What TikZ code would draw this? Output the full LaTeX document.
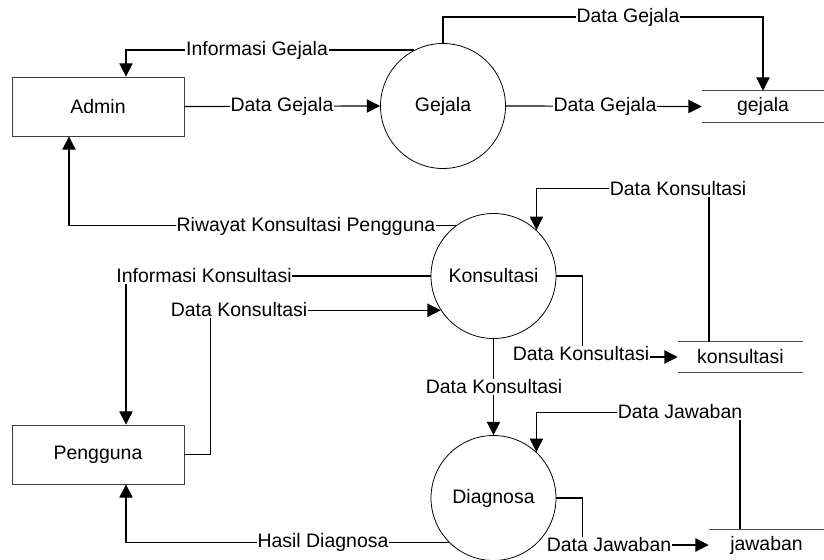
\documentclass[tikz,border=0pt]{standalone}
\usepackage{fontspec}
\setmainfont{Liberation Sans}
\usetikzlibrary{arrows.meta}

\tikzstyle{entity} = [rectangle, draw=black!75, line width=0.6pt, minimum width=129pt, minimum height=44.25pt, inner sep=0pt]
\tikzstyle{process} = [circle, draw, line width=0.6pt, minimum size=93.75pt, inner sep=0pt]
\tikzstyle{datastore} = [rectangle, minimum height=23.25pt, inner sep=0pt]
\tikzstyle{storeline} = [draw=black!70, line width=0.8pt]
\tikzstyle{flow} = [-{Triangle[length=10pt, width=10pt]}, line width=0.9pt]
\tikzstyle{flowlabel} = [fill=white, inner sep=0.5pt]

\begin{document}
\begin{tikzpicture}[x=0.75pt, y=-0.75pt, font=\fontsize{14.6}{17}\selectfont]
  \useasboundingbox (0, 0) rectangle (824, 560);
  % external entities
  \node[entity] (admin) at (98, 106.5) {Admin};
  \node[entity] (pengguna) at (98, 454.5) {Pengguna};
  % processes
  \node[process] (gejala) at (443, 106) {Gejala};
  \node[process] (konsultasi) at (493.5, 276) {Konsultasi};
  \node[process] (diagnosa) at (493.5, 498) {Diagnosa};
  % data stores
  \node[datastore, minimum width=91.5pt] (dgejala) at (763, 106.5) {gejala};
  \node[datastore, minimum width=93.75pt, minimum height=22.5pt] (dkonsultasi) at (740.5, 357) {konsultasi};
  \node[datastore, minimum width=86.25pt] (djawaban) at (766.5, 545) {jawaban};
  \draw[storeline] (dgejala.north west) -- (dgejala.north east);
  \draw[storeline] (dgejala.south west) -- (dgejala.south east);
  \draw[storeline] (dkonsultasi.north west) -- (dkonsultasi.north east);
  \draw[storeline] (dkonsultasi.south west) -- (dkonsultasi.south east);
  \draw[storeline] (djawaban.north west) -- (djawaban.north east);
  % data flows
  \draw[flow] (gejala.117) -| ([xshift=21pt]admin.north);
  \draw[flow] (admin.east) -- (gejala.west);
  \draw[flow] (gejala.north) -- ++(0, -26) -| (dgejala.north);
  \draw[flow] (gejala.east) -- (dgejala.west);
  \draw[flow] (konsultasi.127) -| ([xshift=-21.75pt]admin.south);
  \draw[flow] (konsultasi.west) -| ([xshift=21pt]pengguna.north);
  \draw[flow] (pengguna.east) -- ++(26, 0) |- (konsultasi.213);
  \draw[flow] (konsultasi.east) -- ++(26, 0) |- (dkonsultasi.west);
  \draw[flow] ([xshift=-23.6pt]dkonsultasi.north) -- ++(0, -153) -| (konsultasi.47);
  \draw[flow] (konsultasi.south) -- (diagnosa.north);
  \draw[flow] ([xshift=-19.9pt]djawaban.north) -- ++(0, -117) -| (diagnosa.47);
  \draw[flow] (diagnosa.east) -- ++(26, 0) |- (djawaban.west);
  \draw[flow] (diagnosa.225) -| ([xshift=21pt]pengguna.south);
  % flow labels
  \foreach \i/\x/\y/\t in {
    1/257/50/Informasi Gejala, 2/282/106/Data Gejala, 3/628/17/Data Gejala,
    4/605/106/Data Gejala, 5/306/226/Riwayat Konsultasi Pengguna,
    6/204/276/Informasi Konsultasi, 7/239/310/Data Konsultasi,
    8/581/354/Data Konsultasi, 9/678/189/Data Konsultasi,
    10/494/387/Data Konsultasi, 11/680/412/Data Jawaban,
    12/609/545/Data Jawaban, 13/323/542/Hasil Diagnosa} {
    \node[flowlabel] (label\i) at (\x, \y) {\t};
  }
\end{tikzpicture}
\end{document}
